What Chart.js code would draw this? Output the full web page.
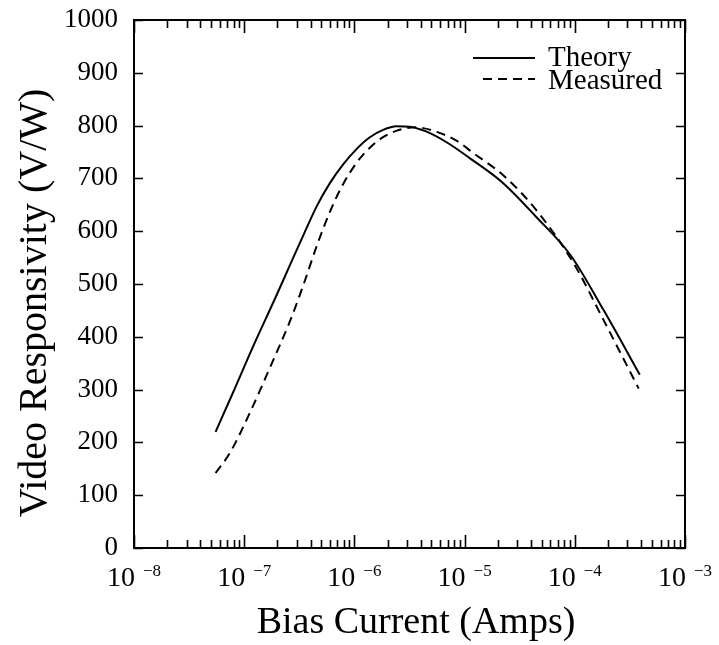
<!DOCTYPE html>
<html><head><meta charset="utf-8">
<script src="https://cdn.jsdelivr.net/npm/chart.js@4/dist/chart.umd.min.js"></script>
<style>html,body{margin:0;padding:0;background:#fff;}#wrap{width:719px;height:645px;position:relative;}</style>
</head><body><div id="wrap"><canvas id="c" width="719" height="645" style="width:719px;height:645px;display:block"></canvas></div>
<script>
// ---- data ----
const theoryCurrent = [5.50e-8, 7.94e-8, 1.20e-7, 1.91e-7, 2.63e-7, 3.47e-7, 4.57e-7, 6.03e-7, 7.94e-7, 1.05e-6, 1.38e-6, 1.82e-6, 2.40e-6, 3.16e-6, 4.47e-6, 6.92e-6, 1.12e-5, 2.24e-5, 4.47e-5, 9.12e-5, 1.82e-4, 3.89e-4];
const theoryResp    = [220, 295, 381, 473, 538, 594, 648, 692, 727, 756, 778, 792, 799, 798, 789, 768, 738, 691, 627, 555, 451, 328];
const measuredCurrent = [5.50e-8, 7.41e-8, 1.12e-7, 1.70e-7, 2.63e-7, 3.47e-7, 4.57e-7, 6.03e-7, 7.94e-7, 1.05e-6, 1.38e-6, 1.82e-6, 2.57e-6, 3.55e-6, 5.25e-6, 8.51e-6, 1.20e-5, 2.24e-5, 4.47e-5, 9.77e-5, 1.82e-4, 3.80e-4];
const measuredResp    = [142, 180, 255, 340, 432, 500, 573, 638, 690, 730, 758, 778, 792, 797, 790, 771, 748, 706, 640, 539, 432, 302];
const seriesLabels = ['Theory', 'Measured'];
const xDecades = [-8, -7, -6, -5, -4, -3];
const xMinorMultipliers = [1, 2, 3, 4, 5, 6, 7, 8, 9];
const yMin = 0, yMax = 1000, yStep = 50, yLabelStep = 100;
const xTitle = 'Bias Current (Amps)';
const yTitle = 'Video Responsivity (V/W)';

const SERIF = '"Liberation Serif", "Times New Roman", serif';

function toPoints(xs, ys) { return xs.map((x, i) => ({ x: x, y: ys[i] })); }

const decor = {
  id: 'decor',
  afterDraw(chart) {
    const ctx = chart.ctx, ca = chart.chartArea;
    const xs = chart.scales.x, ys = chart.scales.y;
    ctx.save();
    ctx.strokeStyle = '#000';
    ctx.fillStyle = '#000';
    ctx.lineWidth = 2;
    ctx.strokeRect(ca.left, ca.top, ca.right - ca.left, ca.bottom - ca.top);
    ctx.lineWidth = 1.6;
    ys.ticks.forEach(t => {
      const py = Math.round(ys.getPixelForValue(t.value)) + 0.5;
      ctx.beginPath();
      ctx.moveTo(ca.left, py); ctx.lineTo(ca.left + 9, py);
      ctx.moveTo(ca.right, py); ctx.lineTo(ca.right - 9, py);
      ctx.stroke();
    });
    xs.ticks.forEach(t => {
      const px = Math.round(xs.getPixelForValue(t.value)) + 0.5;
      const e = Math.log10(t.value);
      const major = Math.abs(e - Math.round(e)) < 1e-6;
      const len = major ? 13 : 8;
      ctx.beginPath();
      ctx.moveTo(px, ca.bottom); ctx.lineTo(px, ca.bottom - len);
      ctx.moveTo(px, ca.top); ctx.lineTo(px, ca.top + len);
      ctx.stroke();
    });
    ctx.textBaseline = 'alphabetic';
    ctx.textAlign = 'left';
    xs.ticks.forEach(t => {
      const e = Math.log10(t.value);
      if (Math.abs(e - Math.round(e)) > 1e-6) return;
      const n = Math.round(e);
      const px = xs.getPixelForValue(t.value);
      const base = '10', sup = (n < 0 ? '\u2212' : '') + Math.abs(n);
      ctx.font = '28px ' + SERIF;
      const wb = ctx.measureText(base).width;
      ctx.font = '17px ' + SERIF;
      const wsup = ctx.measureText(sup).width;
      const gap = 8;
      const x0 = px - (wb + gap + wsup) / 2;
      ctx.font = '28px ' + SERIF;
      ctx.fillText(base, x0, 586);
      ctx.font = '17px ' + SERIF;
      ctx.fillText(sup, x0 + wb + gap, 576);
    });
    ctx.font = '38px ' + SERIF;
    ctx.textAlign = 'center';
    ctx.fillText(xTitle, 416, 633);
    ctx.save();
    ctx.translate(46, 303);
    ctx.rotate(-Math.PI / 2);
    ctx.font = '40px ' + SERIF;
    ctx.fillText(yTitle, 0, 0);
    ctx.restore();
    const legendRows = [
      { x0: 473, x1: 535, ly: 58, ty: 66 },
      { x0: 483, x1: 535, ly: 79, ty: 89 }
    ];
    chart.data.datasets.forEach((ds, i) => {
      const r = legendRows[i];
      ctx.save();
      ctx.lineWidth = 2;
      ctx.setLineDash(ds.borderDash || []);
      ctx.beginPath();
      ctx.moveTo(r.x0, r.ly); ctx.lineTo(r.x1, r.ly);
      ctx.stroke();
      ctx.restore();
      ctx.font = '29px ' + SERIF;
      ctx.textAlign = 'left';
      ctx.fillText(ds.label, 548, r.ty);
    });
    ctx.restore();
  }
};

new Chart(document.getElementById('c'), {
  type: 'line',
  data: {
    datasets: [
      { label: seriesLabels[0], data: toPoints(theoryCurrent, theoryResp), borderColor: '#000', borderWidth: 2, pointRadius: 0, fill: false, cubicInterpolationMode: 'monotone' },
      { label: seriesLabels[1], data: toPoints(measuredCurrent, measuredResp), borderColor: '#000', borderWidth: 2, borderDash: [9, 6], pointRadius: 0, fill: false, cubicInterpolationMode: 'monotone' }
    ]
  },
  options: {
    responsive: false,
    maintainAspectRatio: false,
    animation: false,
    devicePixelRatio: 1,
    layout: { padding: { left: 0, top: 20, right: 34, bottom: 0 } },
    plugins: { legend: { display: false }, tooltip: { enabled: false } },
    scales: {
      x: {
        type: 'logarithmic',
        min: Math.pow(10, xDecades[0]),
        max: Math.pow(10, xDecades[xDecades.length - 1]),
        grid: { display: false, drawTicks: false },
        border: { display: false },
        ticks: { display: false },
        afterBuildTicks(scale) {
          const ticks = [];
          xDecades.forEach((d, i) => {
            xMinorMultipliers.forEach(m => {
              if (i === xDecades.length - 1 && m > 1) return;
              ticks.push({ value: m * Math.pow(10, d) });
            });
          });
          scale.ticks = ticks;
        },
        afterFit(scale) { scale.height = 97; scale.paddingLeft = 0; scale.paddingRight = 0; }
      },
      y: {
        min: yMin, max: yMax,
        grid: { display: false, drawTicks: false },
        border: { display: false },
        ticks: {
          stepSize: yStep,
          padding: 16,
          color: '#000',
          font: { family: SERIF, size: 27 },
          callback: v => (v % yLabelStep === 0 ? String(v) : '')
        },
        afterFit(scale) { scale.width = 134; scale.paddingTop = 0; scale.paddingBottom = 0; }
      }
    }
  },
  plugins: [decor]
});
</script>
</body></html>
